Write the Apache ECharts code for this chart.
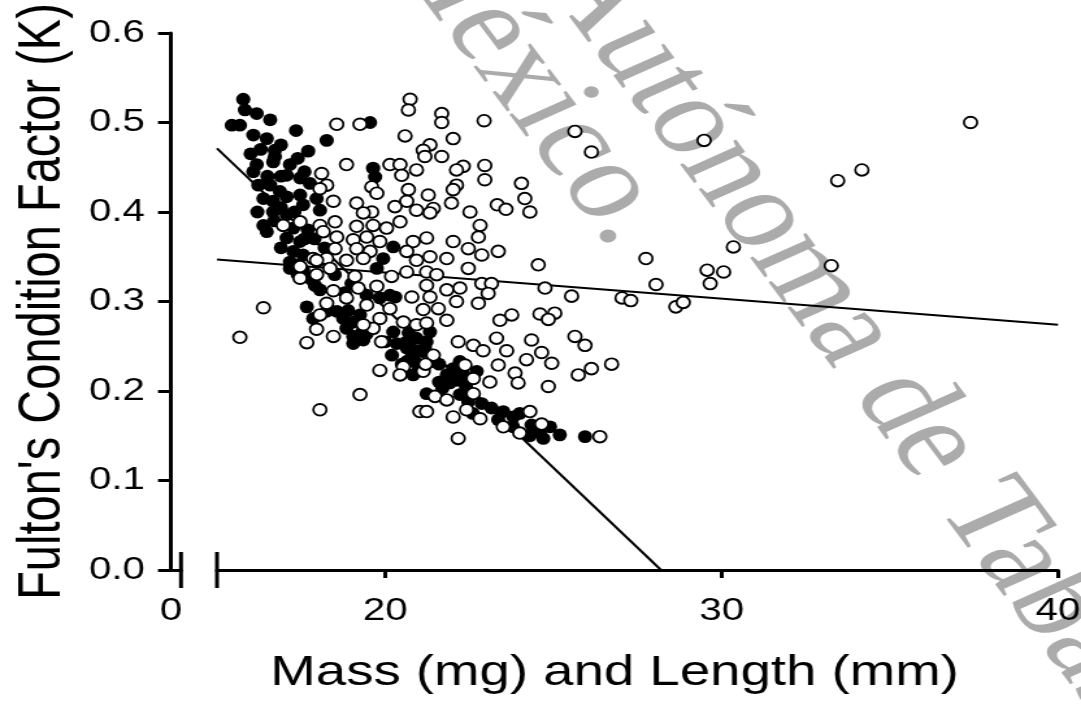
<!DOCTYPE html>
<html><head><meta charset="utf-8">
<script src="https://cdn.jsdelivr.net/npm/echarts@6/dist/echarts.min.js"></script>
<style>
html,body{margin:0;padding:0;background:#fff;overflow:hidden;}
#wrap{width:1081px;height:704px;overflow:hidden;position:relative;}
#chart{width:832px;height:704px;transform:scaleX(1.29928);transform-origin:0 0;}
</style></head><body><div id="wrap"><div id="chart"></div></div>
<script>
// Filled circles: [mass/length, K]
const filledPoints = [
[15.78,0.526],[15.83,0.514],[16.18,0.510],[16.58,0.503],[15.44,0.497],[15.68,0.497],[16.08,0.486],[16.48,0.482],[17.35,0.491],[18.26,0.480],
[17.71,0.468],[16.72,0.469],[16.72,0.462],[16.18,0.453],[16.08,0.445],[16.67,0.456],[17.17,0.453],[17.07,0.441],[17.47,0.438],[17.76,0.432],
[16.23,0.430],[16.58,0.430],[16.87,0.423],[16.38,0.415],[16.67,0.412],[17.07,0.417],[17.47,0.419],[17.96,0.415],[17.56,0.408],[18.06,0.402],
[16.67,0.400],[17.07,0.397],[16.38,0.385],[16.48,0.378],[17.27,0.382],[17.07,0.371],[17.47,0.367],[17.27,0.356],[17.56,0.352],[17.17,0.344],
[19.64,0.449],[19.70,0.439],[19.55,0.500],[20.24,0.361],[19.94,0.348],
[17.67,0.294],[18.06,0.313],[18.56,0.289],[18.85,0.270],[19.05,0.253],[19.45,0.307],[20.14,0.307],[20.34,0.253],[20.64,0.248],[20.79,0.238],
[20.83,0.218],[17.17,0.337],[17.56,0.335],[19.05,0.277],[20.93,0.259],[17.86,0.281],[18.26,0.289],[18.75,0.281],[19.05,0.261],[19.35,0.257],
[19.45,0.264],[20.24,0.266],[20.64,0.255],[20.90,0.232],[20.64,0.233],[20.98,0.222],[17.91,0.318],[17.37,0.341],[19.75,0.337],[20.30,0.305],
[19.84,0.304],[19.25,0.285],
[21.23,0.255],[21.13,0.244],[21.03,0.229],[22.02,0.225],[22.22,0.233],[21.83,0.218],[22.12,0.212],[22.32,0.218],[22.72,0.222],[21.23,0.197],
[22.22,0.196],[22.47,0.188],[22.87,0.186],[23.16,0.181],[23.51,0.177],[23.81,0.171],[24.00,0.175],[23.36,0.168],[24.35,0.162],[24.60,0.155],
[24.70,0.147],[25.19,0.151],[25.94,0.149],[21.33,0.266],[21.18,0.248],[21.43,0.233],[20.74,0.255],[21.43,0.238],[21.92,0.209],[21.70,0.203],
[18.50,0.330],[18.80,0.310],[19.00,0.320],[17.90,0.370],[18.20,0.360],[18.00,0.345],
[16.30,0.470],[16.90,0.475],[16.00,0.465],[17.40,0.460],[16.90,0.440],[17.60,0.445],[16.50,0.440],[16.20,0.400],[16.90,0.405],[17.30,0.400],
[16.70,0.390],[17.70,0.380],[16.90,0.360],[17.60,0.370],[17.40,0.330],[17.80,0.325],[18.90,0.290],[19.30,0.265],[20.00,0.255],[20.20,0.240],
[20.50,0.230],[20.70,0.265],[21.00,0.245],[21.60,0.230],[21.60,0.210],[22.40,0.205],[22.60,0.175],[23.80,0.160],[24.30,0.150],[24.90,0.160]
];
// Open circles: [mass/length, K]
const openPoints = [
[20.74,0.526],[20.69,0.514],[18.56,0.498],[19.25,0.498],[20.59,0.485],[18.85,0.453],[20.14,0.453],[20.44,0.453],[20.93,0.447],[18.11,0.443],
[20.49,0.441],[18.26,0.430],[18.06,0.426],[19.60,0.428],[19.75,0.421],[20.69,0.425],[18.46,0.412],[19.15,0.410],[20.29,0.406],[20.64,0.412],
[19.60,0.400],[19.35,0.399],[20.93,0.402],[18.51,0.389],[18.06,0.385],[19.15,0.384],[19.64,0.385],[20.04,0.382],[20.44,0.389],[18.16,0.378],
[18.56,0.372],[19.05,0.369],[19.45,0.372],[19.84,0.367],[20.83,0.367],[18.51,0.359],[19.15,0.359],[19.55,0.356],[20.64,0.356],[17.86,0.348],
[18.26,0.348],[18.85,0.346],[19.35,0.348],[20.93,0.346],[16.97,0.385],[17.47,0.389],
[16.38,0.293],[15.68,0.260],[17.67,0.254],[17.96,0.269],[18.46,0.261],[18.06,0.285],[18.26,0.298],[18.46,0.312],[18.85,0.304],[19.20,0.315],
[19.10,0.328],[17.96,0.330],[17.47,0.326],[18.36,0.337],[19.45,0.296],[19.75,0.317],[20.19,0.328],[20.64,0.333],[20.79,0.305],[20.14,0.292],
[19.84,0.281],[19.64,0.270],[19.35,0.274],[20.54,0.277],[20.93,0.274],[19.89,0.255],[19.84,0.223],[20.54,0.227],[20.44,0.218],[19.25,0.196],
[18.06,0.179],[21.03,0.177],[17.47,0.339],[17.96,0.346],
[21.68,0.510],[21.68,0.500],[22.94,0.502],[22.02,0.482],[21.33,0.475],[21.13,0.469],[21.18,0.462],[21.68,0.462],[22.32,0.451],[22.12,0.447],
[22.96,0.452],[22.96,0.436],[25.64,0.490],[26.13,0.467],[24.05,0.432],[24.15,0.415],[24.30,0.400],[23.33,0.408],[23.59,0.403],[22.12,0.430],
[22.02,0.425],[21.28,0.419],[21.43,0.404],[21.33,0.399],[21.97,0.410],[22.52,0.400],[22.82,0.385],[22.77,0.372],[22.02,0.367],[21.23,0.371],
[23.36,0.356],[22.47,0.359],[22.87,0.352],[21.33,0.350],[21.83,0.348],[24.55,0.341],
[22.47,0.337],[21.23,0.333],[21.53,0.330],[22.87,0.320],[23.16,0.320],[24.75,0.315],[25.54,0.306],[21.23,0.318],[21.83,0.313],[22.22,0.315],
[23.06,0.309],[21.33,0.305],[22.12,0.300],[22.77,0.298],[21.13,0.291],[21.58,0.292],[21.83,0.279],[21.23,0.276],[23.76,0.285],[23.41,0.279],
[24.60,0.286],[25.04,0.287],[24.85,0.280],[23.31,0.259],[24.35,0.257],[25.64,0.261],[25.94,0.251],[22.62,0.251],[22.91,0.245],[23.61,0.245],
[22.17,0.255],[24.65,0.243],[21.43,0.240],[24.20,0.235],[24.95,0.231],[23.36,0.229],[26.73,0.230],[26.13,0.225],[25.74,0.218],[23.86,0.220],
[23.95,0.209],[24.85,0.205],[22.37,0.229],[22.62,0.214],[23.11,0.210],[21.13,0.222],[21.20,0.230],[21.48,0.194],[21.83,0.190],[22.62,0.197],
[21.23,0.177],[22.02,0.171],[22.42,0.179],[22.82,0.169],[23.51,0.160],[24.30,0.177],[24.00,0.153],[24.65,0.163],[22.17,0.147],[26.38,0.149],
[37.40,0.500],[34.17,0.447],[33.45,0.435],[29.48,0.480],[30.35,0.361],[33.26,0.340],[27.75,0.348],[28.05,0.319],[29.57,0.335],[30.06,0.333],
[29.66,0.320],[27.04,0.304],[27.30,0.301],[28.64,0.294],[28.86,0.299]
];
// Regression lines
const fitFilled = [[15.0,0.471],[28.2,0]];
const fitOpen = [[15.0,0.347],[40,0.274]];
// Axis ticks / labels
const xTickValues = [20,30,40];
const xLeftTickValues = [0];
const yMin = 0, yMax = 0.6, yStep = 0.1;
const xTitle = 'Mass (mg) and Length (mm)';
const yTitle = "Fulton's Condition Factor (K)";
const watermarkLines = ['Universidad Juárez Autónoma de Tabasco', 'México.'];

const FONT = '"Liberation Sans", Arial, Helvetica, sans-serif';
const SERIF = '"Liberation Serif", "Times New Roman", "DejaVu Serif", serif';
const axisLineStyle = {color:'#000', width:3};
const labelStyle = {fontSize:31, color:'#000', fontFamily:FONT};

const chart = echarts.init(document.getElementById('chart'), null, {renderer:'canvas'});
const option = {
  animation:false,
  backgroundColor:'#fff',
  textStyle:{fontFamily:FONT},
  grid:[
    {left:131.6, width:7.7, top:33, bottom:134, containLabel:false, outerBoundsMode:'none'},
    {left:167, right:17.7, top:33, bottom:134, containLabel:false, outerBoundsMode:'none'}
  ],
  xAxis:[
    {gridIndex:0, type:'value', min:0, max:1,
     axisLine:{show:true, onZero:false, lineStyle:axisLineStyle},
     axisTick:{show:false}, splitLine:{show:false},
     axisLabel:Object.assign({customValues:xLeftTickValues, margin:26}, labelStyle)},
    {gridIndex:1, type:'value', min:15, max:40,
     axisLine:{show:true, onZero:false, lineStyle:axisLineStyle},
     axisTick:{show:true, customValues:xTickValues, length:8, lineStyle:axisLineStyle},
     splitLine:{show:false},
     axisLabel:Object.assign({customValues:xTickValues, margin:26}, labelStyle)}
  ],
  yAxis:[
    {gridIndex:0, type:'value', min:yMin, max:yMax, interval:yStep,
     axisLine:{show:true, onZero:false, lineStyle:axisLineStyle},
     axisTick:{show:true, length:10, lineStyle:axisLineStyle},
     splitLine:{show:false},
     axisLabel:Object.assign({margin:20, formatter:v=>v.toFixed(1)}, labelStyle),
     name:yTitle, nameLocation:'middle', nameGap:75,
     nameTextStyle:{fontSize:47, color:'#000', fontFamily:FONT}},
    {gridIndex:1, type:'value', min:yMin, max:yMax, interval:yStep, show:false}
  ],
  series:[
    {type:'line', xAxisIndex:1, yAxisIndex:1, data:fitFilled, symbol:'none', silent:true,
     lineStyle:{color:'#000', width:2}, z:2},
    {type:'line', xAxisIndex:1, yAxisIndex:1, data:fitOpen, symbol:'none', silent:true,
     lineStyle:{color:'#000', width:2}, z:2},
    {type:'scatter', xAxisIndex:1, yAxisIndex:1, data:filledPoints, symbol:'circle',
     symbolSize:[11,12.8], itemStyle:{color:'#000', opacity:1}, z:3, silent:true},
    {type:'scatter', xAxisIndex:1, yAxisIndex:1, data:openPoints, symbol:'circle',
     symbolSize:[10.2,11.6], itemStyle:{color:'#fff', borderColor:'#000', borderWidth:1.8, opacity:1}, z:4, silent:true}
  ]
};
chart.setOption(option);

const pL = chart.convertToPixel({gridIndex:0}, [1, 0]);
const pR = chart.convertToPixel({gridIndex:1}, [15, 0]);
const rot = -Math.PI/3;
chart.setOption({
  graphic:[
    {id:'wm1', type:'text', x:921, y:796, rotation:rot, z:-1, silent:true,
     style:{text:watermarkLines[0], font:'108px '+SERIF, fill:'#ababab', textAlign:'right', textVerticalAlign:'middle', align:'right', verticalAlign:'middle'}},
    {id:'wm2', type:'text', x:495, y:236, rotation:rot, z:-1, silent:true,
     style:{text:watermarkLines[1], font:'108px '+SERIF, fill:'#ababab', textAlign:'right', textVerticalAlign:'middle', align:'right', verticalAlign:'middle'}},
    {id:'brkL', type:'line', z:10, silent:true,
     shape:{x1:pL[0], y1:pL[1]-18, x2:pL[0], y2:pL[1]+18}, style:{stroke:'#000', lineWidth:3}},
    {id:'brkR', type:'line', z:10, silent:true,
     shape:{x1:pR[0], y1:pR[1]-18, x2:pR[0], y2:pR[1]+18}, style:{stroke:'#000', lineWidth:3}},
    {id:'xtitle', type:'text', x:473, y:673, z:10, silent:true,
     style:{text:xTitle, font:'42px '+FONT, fill:'#000', textAlign:'center', textVerticalAlign:'middle', align:'center', verticalAlign:'middle'}}
  ]
});
</script></body></html>
